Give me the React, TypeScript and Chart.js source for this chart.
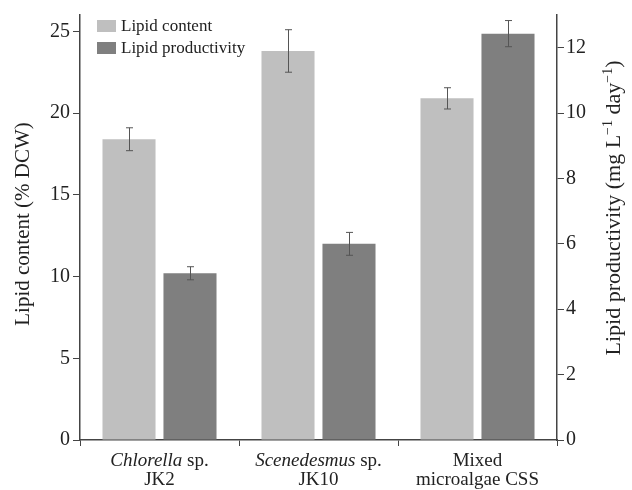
import React, { useEffect, useRef } from "react";
import { Chart, registerables } from "chart.js";

Chart.register(...registerables);

const categories = ["Chlorella sp. JK2", "Scenedesmus sp. JK10", "Mixed microalgae CSS"];
const labelItalic = ["Chlorella", "Scenedesmus", ""];
const labelLine1Rest = [" sp.", " sp.", "Mixed"];
const labelLine2 = ["JK2", "JK10", "microalgae CSS"];

const lipidContent = [18.4, 23.8, 20.9];
const lipidContentErr = [0.7, 1.3, 0.65];
const lipidProductivity = [5.1, 6.0, 12.43];
const lipidProductivityErr = [0.2, 0.35, 0.4];

const leftTicks = [0, 5, 10, 15, 20, 25];
const rightTicks = [0, 2, 4, 6, 8, 10, 12];

const seriesNames = ["Lipid content", "Lipid productivity"];
const seriesColors = ["#bfbfbf", "#7f7f7f"];

const FONT = "'Liberation Serif', 'Times New Roman', serif";
const AXIS = "#444444";
const TEXT = "#222222";

const errors = [lipidContentErr, lipidProductivityErr];

const overlayPlugin = {
  id: "overlay",
  afterDatasetsDraw(chart: any) {
    const ctx = chart.ctx;
    ctx.save();
    ctx.strokeStyle = "#555555";
    ctx.lineWidth = 1;
    chart.data.datasets.forEach((ds: any, i: number) => {
      const meta = chart.getDatasetMeta(i);
      const ys = chart.scales[meta.yAxisID];
      meta.data.forEach((el: any, j: number) => {
        const v = ds.data[j];
        const e = errors[i][j];
        const x = Math.round(el.x) + 0.5;
        const yt = ys.getPixelForValue(v + e);
        const yb = ys.getPixelForValue(v - e);
        ctx.beginPath();
        ctx.moveTo(x, yt);
        ctx.lineTo(x, yb);
        ctx.moveTo(x - 3.5, yt);
        ctx.lineTo(x + 3.5, yt);
        ctx.moveTo(x - 3.5, yb);
        ctx.lineTo(x + 3.5, yb);
        ctx.stroke();
      });
    });
    ctx.restore();
  },
  afterDraw(chart: any) {
    const ctx = chart.ctx;
    ctx.save();
    // Legend
    const lx = 97;
    const rows = [20, 42];
    ctx.font = `17px ${FONT}`;
    ctx.textBaseline = "middle";
    ctx.textAlign = "left";
    seriesNames.forEach((n, i) => {
      ctx.fillStyle = seriesColors[i];
      ctx.fillRect(lx, rows[i], 19, 12);
      ctx.fillStyle = TEXT;
      ctx.fillText(n, lx + 24, rows[i] + 6.5);
    });

    // X labels
    const xs = chart.scales.x;
    const fs = 19;
    categories.forEach((_, i) => {
      const cx = xs.getPixelForValue(i);
      ctx.textBaseline = "alphabetic";
      ctx.textAlign = "left";
      ctx.font = `italic ${fs}px ${FONT}`;
      const wI = ctx.measureText(labelItalic[i]).width;
      ctx.font = `${fs}px ${FONT}`;
      const wR = ctx.measureText(labelLine1Rest[i]).width;
      const x0 = cx - (wI + wR) / 2;
      ctx.fillStyle = TEXT;
      ctx.font = `italic ${fs}px ${FONT}`;
      ctx.fillText(labelItalic[i], x0, 466);
      ctx.font = `${fs}px ${FONT}`;
      ctx.fillText(labelLine1Rest[i], x0 + wI, 466);
      ctx.textAlign = "center";
      ctx.fillText(labelLine2[i], cx, 485);
    });

    // Left title
    ctx.fillStyle = TEXT;
    ctx.save();
    ctx.translate(29, 224);
    ctx.rotate(-Math.PI / 2);
    ctx.font = `21px ${FONT}`;
    ctx.textAlign = "center";
    ctx.textBaseline = "alphabetic";
    ctx.fillText("Lipid content (% DCW)", 0, 0);
    ctx.restore();

    // Right title with superscripts
    const tf = 22;
    const parts: [string, boolean][] = [
      ["Lipid productivity (mg L", false],
      ["\u22121", true],
      [" day", false],
      ["\u22121", true],
      [")", false],
    ];
    const supSize = 14;
    let total = 0;
    const widths = parts.map(([t, sup]) => {
      ctx.font = `${sup ? supSize : tf}px ${FONT}`;
      const w = ctx.measureText(t).width;
      total += w;
      return w;
    });
    ctx.save();
    ctx.translate(620, 208);
    ctx.rotate(-Math.PI / 2);
    ctx.textAlign = "left";
    ctx.textBaseline = "alphabetic";
    let px = -total / 2;
    parts.forEach(([t, sup], k) => {
      ctx.font = `${sup ? supSize : tf}px ${FONT}`;
      ctx.fillText(t, px, sup ? -8 : 0);
      px += widths[k];
    });
    ctx.restore();

    ctx.restore();
  },
};

export default function App() {
  const ref = useRef<HTMLCanvasElement | null>(null);

  useEffect(() => {
    if (!ref.current) return;
    const chart = new Chart(ref.current, {
      type: "bar",
      data: {
        labels: categories,
        datasets: [
          {
            label: seriesNames[0],
            data: lipidContent,
            backgroundColor: seriesColors[0],
            yAxisID: "y",
            categoryPercentage: 0.767,
            barPercentage: 0.87,
          },
          {
            label: seriesNames[1],
            data: lipidProductivity,
            backgroundColor: seriesColors[1],
            yAxisID: "y1",
            categoryPercentage: 0.767,
            barPercentage: 0.87,
          },
        ],
      },
      options: {
        animation: false,
        responsive: true,
        maintainAspectRatio: false,
        layout: { padding: { top: 10, left: 0, right: 0, bottom: 0 } },
        plugins: {
          legend: { display: false },
          tooltip: { enabled: false },
        },
        scales: {
          x: {
            offset: true,
            grid: {
              offset: true,
              drawOnChartArea: false,
              drawTicks: true,
              tickLength: 6,
              color: AXIS,
              lineWidth: 1,
            },
            border: { display: true, color: AXIS, width: 1.5 },
            ticks: { display: false },
            afterFit: (s: any) => {
              s.height = 50;
            },
          },
          y: {
            position: "left",
            min: 0,
            max: 26,
            afterBuildTicks: (s: any) => {
              s.ticks = leftTicks.map((v) => ({ value: v }));
            },
            grid: {
              drawOnChartArea: false,
              drawTicks: true,
              tickLength: 7,
              color: AXIS,
              lineWidth: 1,
            },
            border: { display: true, color: AXIS, width: 1.5 },
            ticks: {
              padding: 3,
              color: TEXT,
              font: { family: FONT, size: 20 },
            },
            afterFit: (s: any) => {
              s.width = 80;
            },
          },
          y1: {
            position: "right",
            min: 0,
            max: 13,
            afterBuildTicks: (s: any) => {
              s.ticks = rightTicks.map((v) => ({ value: v }));
            },
            grid: {
              drawOnChartArea: false,
              drawTicks: true,
              tickLength: 7,
              color: AXIS,
              lineWidth: 1,
            },
            border: { display: true, color: AXIS, width: 1.5 },
            ticks: {
              padding: 2,
              color: TEXT,
              font: { family: FONT, size: 20 },
            },
            afterFit: (s: any) => {
              s.width = 75;
            },
          },
        },
      },
      plugins: [overlayPlugin],
    } as any);
    return () => chart.destroy();
  }, []);

  return (
    <div style={{ position: "fixed", left: 0, top: 0, width: 632, height: 490, background: "#fff" }}>
      <canvas ref={ref} />
    </div>
  );
}
